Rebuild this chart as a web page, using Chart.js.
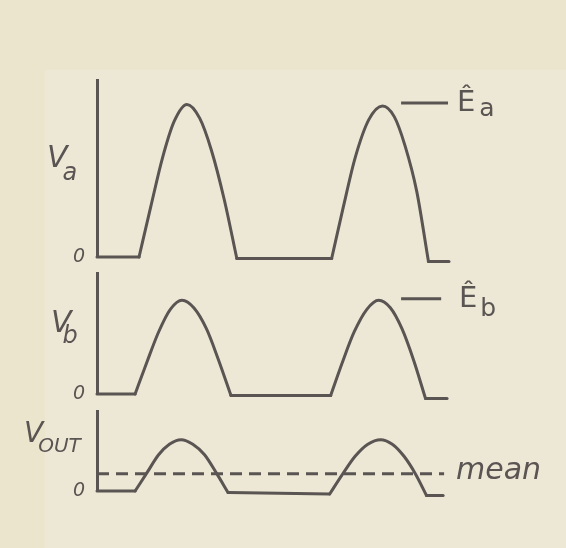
<!DOCTYPE html>
<html lang="en">
<head>
<meta charset="UTF-8">
<title>Half-wave rectified voltages</title>
<script src="https://cdn.jsdelivr.net/npm/chart.js"></script>
<style>
  body { margin: 0; width: 566px; height: 548px; background: #ebe5cd; position: relative; overflow: hidden; font-family: 'DejaVu Sans', sans-serif; color: #5a5452; }
  #paper { position: absolute; left: 45px; top: 70px; right: 0; bottom: 0; background: #ede8d6; }
  canvas { position: absolute; left: 0; top: 0; }
  .lbl { position: absolute; line-height: 1; white-space: nowrap; }
  .lbl span { position: relative; line-height: 1; }
</style>
</head>
<body>
<div id="paper"></div>
<canvas id="chartA" width="566" height="548"></canvas>
<canvas id="chartB" width="566" height="548"></canvas>
<canvas id="chartC" width="566" height="548"></canvas>

<div class="lbl" style="left:47px;top:142px;font-size:30px;font-style:italic">V<span style="font-size:24px;top:13px;left:-5px">a</span></div>
<div class="lbl" style="left:51px;top:307px;font-size:30px;font-style:italic">V<span style="font-size:24px;top:11px;left:-9px">b</span></div>
<div class="lbl" style="left:24px;top:419px;font-size:28px;font-style:italic">V<span style="font-size:20px;top:10px;left:-5px">OUT</span></div>
<div class="lbl" style="left:457px;top:87px;font-size:29px">Ê<span style="font-size:25px;top:5px;left:4px">a</span></div>
<div class="lbl" style="left:459px;top:283px;font-size:29px">Ê<span style="font-size:25px;top:9px;left:3px">b</span></div>
<div class="lbl" style="left:456px;top:454px;font-size:30px;font-style:italic">mean</div>

<script>
// time in ms (one period = 20 ms), voltage relative to the peak of V_a
const tMax = 36;

// V_a : pulses as [t, v]
const vaPulses = [
    [[4.3, 0], [5.5, 0.33], [6.7, 0.65], [7.9, 0.89], [9.2, 1.0], [10.5, 0.91], [11.7, 0.70], [13.0, 0.38], [14.3, -0.01]],
    [[24.0, -0.01], [25.2, 0.33], [26.4, 0.65], [27.8, 0.90], [29.2, 0.99], [30.4, 0.92], [31.5, 0.73], [32.7, 0.43], [33.9, -0.03]]
];
const vaEnd = 36;
const vaPeakMark = [[31.1, 1.01], [35.9, 1.01]];
const vaMax = 1.16;

// V_b
const vbPulses = [
    [[3.9, 0], [5.1, 0.21], [6.3, 0.41], [7.5, 0.56], [8.7, 0.62], [9.9, 0.57], [11.2, 0.43], [12.4, 0.23], [13.7, -0.01]],
    [[23.9, -0.01], [25.1, 0.21], [26.3, 0.41], [27.6, 0.56], [28.8, 0.62], [30.0, 0.57], [31.2, 0.43], [32.4, 0.22], [33.6, -0.03]]
];
const vbEnd = 35.8;
const vbPeakMark = [[31.1, 0.63], [35.2, 0.63]];
const vbMax = 0.80;

// V_out
const voutPulses = [
    [[3.9, 0], [5.1, 0.12], [6.3, 0.24], [7.4, 0.31], [8.6, 0.34], [9.8, 0.31], [11.0, 0.24], [12.2, 0.12], [13.4, -0.01]],
    [[23.8, -0.02], [25.1, 0.11], [26.4, 0.23], [27.7, 0.31], [29.0, 0.34], [30.2, 0.31], [31.4, 0.23], [32.6, 0.11], [33.7, -0.03]]
];
const voutEnd = 35.4;
const voutMean = [[0, 0.115], [35.5, 0.115]];
const voutMax = 0.53;

const lineColor = '#5a5452';
const axisW = 30;

function toXY(pts) {
    return pts.map(([x, y]) => ({ x, y }));
}

function lineSet(pts, extra) {
    return Object.assign({
        data: toXY(pts),
        borderColor: lineColor,
        borderWidth: 3,
        pointRadius: 0,
        fill: false,
        clip: false,
        tension: 0,
        borderCapStyle: 'round',
        borderJoinStyle: 'round'
    }, extra || {});
}

// flat stretches are straight, the pulses are smooth curves
function traceSets(pulses, tEnd) {
    const sets = [];
    let last = [0, pulses[0][0][1]];
    pulses.forEach(p => {
        sets.push(lineSet([last, p[0]]));
        sets.push(lineSet(p, { cubicInterpolationMode: 'monotone' }));
        last = p[p.length - 1];
    });
    sets.push(lineSet([last, [tEnd, last[1]]]));
    return sets;
}

function makePanel(id, datasets, yMax, top, bottom) {
    return new Chart(document.getElementById(id), {
        type: 'line',
        data: { datasets },
        options: {
            responsive: false,
            animation: false,
            events: [],
            layout: { padding: { left: 97 - axisW, right: 566 - 449, top: top, bottom: 548 - bottom } },
            plugins: { legend: { display: false }, tooltip: { enabled: false } },
            scales: {
                x: { type: 'linear', min: 0, max: tMax, display: false },
                y: {
                    min: 0,
                    max: yMax,
                    grid: { display: false, drawTicks: false },
                    border: { display: true, color: lineColor, width: 3 },
                    afterBuildTicks: ax => { ax.ticks = [{ value: 0 }]; },
                    afterFit: ax => { ax.width = axisW; },
                    ticks: {
                        padding: 12,
                        color: lineColor,
                        font: { family: 'DejaVu Sans', size: 19, style: 'italic' },
                        callback: () => '0'
                    }
                }
            }
        }
    });
}

makePanel('chartA', traceSets(vaPulses, vaEnd).concat([lineSet(vaPeakMark, { borderCapStyle: 'butt' })]), vaMax, 80, 257);
makePanel('chartB', traceSets(vbPulses, vbEnd).concat([lineSet(vbPeakMark, { borderCapStyle: 'butt' })]), vbMax, 273, 394);
makePanel('chartC', traceSets(voutPulses, voutEnd).concat([lineSet(voutMean, { borderDash: [12, 7], borderCapStyle: 'butt' })]), voutMax, 411, 491);
</script>
</body>
</html>
